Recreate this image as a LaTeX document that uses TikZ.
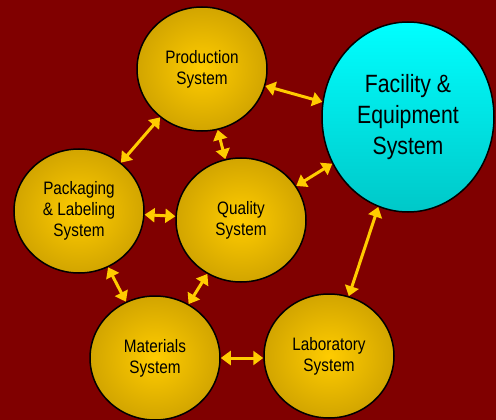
\documentclass[tikz,border=0pt]{standalone}
\usepackage{fontspec}
\setmainfont[FakeStretch=0.85]{Liberation Sans}
\usetikzlibrary{shapes.geometric,arrows.meta}
\definecolor{bg}{RGB}{128,0,0}
\definecolor{goldin}{RGB}{255,204,0}
\definecolor{goldout}{RGB}{210,165,0}
\definecolor{cyantop}{RGB}{0,255,255}
\definecolor{cyanbot}{RGB}{0,200,200}
\definecolor{arrowc}{RGB}{255,204,0}
\begin{document}
\begin{tikzpicture}[x=1pt,y=-1pt,
 sys/.style={ellipse, draw=black, line width=1.5pt, minimum width=130pt, minimum height=124pt, inner sep=0pt, inner color=goldin, outer color=goldout, align=center, font=\fontsize{18}{21}\selectfont},
 big/.style={ellipse, draw=black, line width=1.5pt, minimum width=172pt, minimum height=190pt, inner sep=0pt, top color=cyantop, bottom color=cyanbot, align=center, font=\fontsize{25}{31}\selectfont},
 link/.style={draw=arrowc, line width=3pt, {Triangle[length=10pt,width=14pt]}-{Triangle[length=10pt,width=14pt]}}]
\fill[bg] (0,0) rectangle (496,420);
\useasboundingbox (0,0) rectangle (496,420);
\node[sys] (prod) at (202,69) {Production\\System};
\node[big] (fac) at (408,117) {Facility \&\\Equipment\\System};
\node[sys] (pack) at (79,211) {Packaging\\\& Labeling\\System};
\node[sys] (qual) at (241,220) {Quality\\System};
\node[sys] (mat) at (155,358) {Materials\\System};
\node[sys] (lab) at (329,356) {Laboratory\\System};
\draw[link] (prod) -- (pack);
\draw[link] (prod) -- (qual);
\draw[link] (prod.-15) -- (fac.170);
\draw[link] (qual) -- (fac);
\draw[link] (pack) -- (qual);
\draw[link] (pack) -- (mat);
\draw[link] (qual) -- (mat);
\draw[link] (mat.east) -- (mat.east -| lab.west);
\draw[link] (lab) -- (fac);
\end{tikzpicture}
\end{document}
